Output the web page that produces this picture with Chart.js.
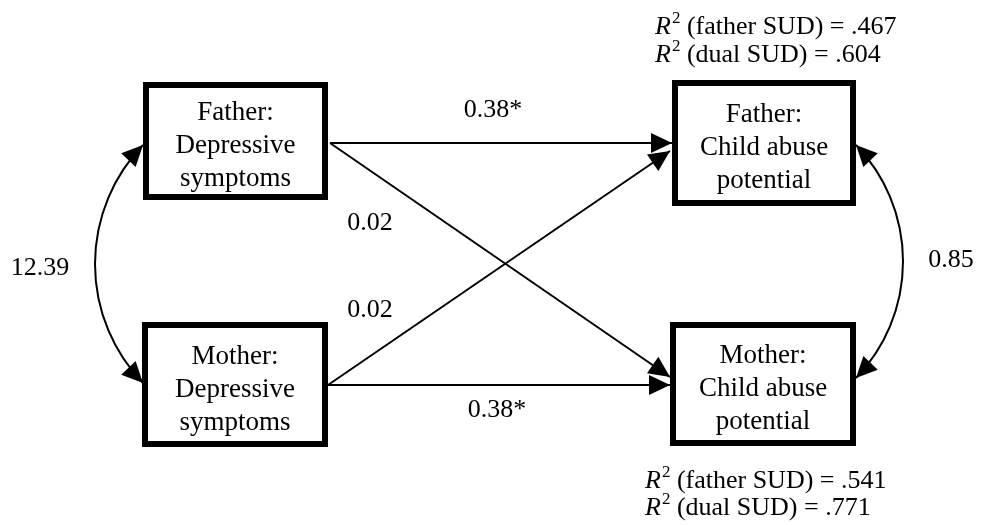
<!DOCTYPE html>
<html>
<head>
<meta charset="utf-8">
<script src="https://cdn.jsdelivr.net/npm/chart.js@4/dist/chart.umd.min.js"></script>
<style>
  html, body { margin: 0; padding: 0; background: #fff; }
  #wrap { width: 981px; height: 525px; }
</style>
</head>
<body>
<div id="wrap"><canvas id="diagram" width="981" height="525"></canvas></div>
<script>
// dados do modelo
const nodeNames = [
  ['Father:', 'Depressive', 'symptoms'],
  ['Mother:', 'Depressive', 'symptoms'],
  ['Father:', 'Child abuse', 'potential'],
  ['Mother:', 'Child abuse', 'potential']
];
const pathFrom = [0, 0, 1, 1];
const pathTo = [2, 3, 2, 3];
const pathCoef = ['0.38*', '0.02', '0.02', '0.38*'];
const covLabels = ['12.39', '0.85'];
const r2Groups = ['father SUD', 'dual SUD'];
const r2FatherAbuse = ['.467', '.604'];
const r2MotherAbuse = ['.541', '.771'];

// layout (unidades do eixo = pixels)
const boxes = [
  { x0: 143, y0: 82, x1: 328, y1: 200 },
  { x0: 142, y0: 322, x1: 328, y1: 447 },
  { x0: 672, y0: 80, x1: 856, y1: 206 },
  { x0: 670, y0: 322, x1: 856, y1: 446 }
];
const pathEnds = [
  [330, 143, 672, 143],
  [330, 143, 670, 377],
  [328, 385, 670, 151],
  [328, 385, 670, 385]
];
const pathLabelPos = [[493, 110], [370, 223], [370, 310], [497, 410]];
const covArcs = [
  { s: [143, 145], m: [95, 264], e: [143, 383], label: [40, 268] },
  { s: [856, 145], m: [903, 262], e: [856, 378], label: [951, 260] }
];
const r2Pos = [
  { x: 655, y: [34, 62], vals: r2FatherAbuse },
  { x: 645, y: [488, 515], vals: r2MotherAbuse }
];

const FONT = '"Liberation Serif", "DejaVu Serif", serif';

const datasets = pathFrom.map((f, i) => ({
  label: nodeNames[f][0] + ' -> ' + nodeNames[pathTo[i]][0],
  data: [{ x: pathEnds[i][0], y: pathEnds[i][1] }, { x: pathEnds[i][2], y: pathEnds[i][3] }],
  showLine: true,
  borderColor: '#000',
  borderWidth: 2,
  pointRadius: 0
}));

function arrowHead(ctx, x, y, dx, dy) {
  const len = 21, half = 10;
  const n = Math.hypot(dx, dy);
  const ux = dx / n, uy = dy / n;
  ctx.beginPath();
  ctx.moveTo(x, y);
  ctx.lineTo(x - ux * len - uy * half, y - uy * len + ux * half);
  ctx.lineTo(x - ux * len + uy * half, y - uy * len - ux * half);
  ctx.closePath();
  ctx.fill();
}

// circulo pelos 3 pontos
function circle3(a, b, c) {
  const d = 2 * (a[0] * (b[1] - c[1]) + b[0] * (c[1] - a[1]) + c[0] * (a[1] - b[1]));
  const a2 = a[0] * a[0] + a[1] * a[1], b2 = b[0] * b[0] + b[1] * b[1], c2 = c[0] * c[0] + c[1] * c[1];
  const cx = (a2 * (b[1] - c[1]) + b2 * (c[1] - a[1]) + c2 * (a[1] - b[1])) / d;
  const cy = (a2 * (c[0] - b[0]) + b2 * (a[0] - c[0]) + c2 * (b[0] - a[0])) / d;
  return { cx, cy, r: Math.hypot(a[0] - cx, a[1] - cy) };
}

const diagramPlugin = {
  id: 'diagram',
  afterDatasetsDraw(chart) {
    const ctx = chart.ctx;
    const xs = chart.scales.x, ys = chart.scales.y;
    const px = v => xs.getPixelForValue(v);
    const py = v => ys.getPixelForValue(v);
    ctx.save();
    ctx.fillStyle = '#000';
    ctx.strokeStyle = '#000';

    // pontas das setas retas
    pathEnds.forEach(p => {
      arrowHead(ctx, px(p[2]), py(p[3]), px(p[2]) - px(p[0]), py(p[3]) - py(p[1]));
    });

    // covariancias (arcos com duas pontas)
    covArcs.forEach((a, i) => {
      const S = [px(a.s[0]), py(a.s[1])], M = [px(a.m[0]), py(a.m[1])], E = [px(a.e[0]), py(a.e[1])];
      const c = circle3(S, M, E);
      const ang0 = Math.atan2(S[1] - c.cy, S[0] - c.cx);
      const ang1 = Math.atan2(E[1] - c.cy, E[0] - c.cx);
      const mid = Math.atan2(M[1] - c.cy, M[0] - c.cx);
      let t1 = ang1; while (t1 < ang0) t1 += 2 * Math.PI;
      let tm = mid; while (tm < ang0) tm += 2 * Math.PI;
      const ccw = !(tm < t1);
      ctx.lineWidth = 2;
      ctx.beginPath();
      ctx.arc(c.cx, c.cy, c.r, ang0, ang1, ccw);
      ctx.stroke();
      const sg = ccw ? -1 : 1;
      arrowHead(ctx, E[0], E[1], sg * -Math.sin(ang1), sg * Math.cos(ang1));
      arrowHead(ctx, S[0], S[1], -sg * -Math.sin(ang0), -sg * Math.cos(ang0));
      ctx.font = '26px ' + FONT;
      ctx.textAlign = 'center';
      ctx.textBaseline = 'middle';
      ctx.fillText(covLabels[i], px(a.label[0]), py(a.label[1]));
    });

    // caixas
    boxes.forEach((b, i) => {
      const x0 = px(b.x0), x1 = px(b.x1), y0 = py(b.y0), y1 = py(b.y1);
      ctx.fillStyle = '#fff';
      ctx.fillRect(x0, y0, x1 - x0, y1 - y0);
      ctx.lineWidth = 6;
      ctx.strokeRect(x0 + 3, y0 + 3, x1 - x0 - 6, y1 - y0 - 6);
      ctx.fillStyle = '#000';
      ctx.font = '27px ' + FONT;
      ctx.textAlign = 'center';
      ctx.textBaseline = 'alphabetic';
      const cx = (x0 + x1) / 2, cy = (y0 + y1) / 2;
      [-21, 12, 45].forEach((off, k) => ctx.fillText(nodeNames[i][k], cx, cy + off));
    });

    // coeficientes
    ctx.font = '26px ' + FONT;
    ctx.textAlign = 'center';
    ctx.textBaseline = 'middle';
    pathCoef.forEach((t, i) => ctx.fillText(t, px(pathLabelPos[i][0]), py(pathLabelPos[i][1])));

    // R2
    ctx.textAlign = 'left';
    ctx.textBaseline = 'alphabetic';
    r2Pos.forEach(g => {
      g.vals.forEach((v, k) => {
        let x = px(g.x);
        const y = py(g.y[k]);
        ctx.font = 'italic 26px ' + FONT;
        ctx.fillText('R', x, y);
        x += ctx.measureText('R').width + 1;
        ctx.font = '17px ' + FONT;
        ctx.fillText('2', x, y - 11);
        x += ctx.measureText('2').width;
        ctx.font = '26px ' + FONT;
        ctx.fillText(' (' + r2Groups[k] + ') = ' + v, x, y);
      });
    });
    ctx.restore();
  }
};

new Chart(document.getElementById('diagram').getContext('2d'), {
  type: 'scatter',
  data: { datasets },
  options: {
    responsive: false,
    animation: false,
    events: [],
    layout: { padding: 0 },
    plugins: { legend: { display: false }, tooltip: { enabled: false } },
    scales: {
      x: { type: 'linear', min: 0, max: 981, display: false },
      y: { type: 'linear', min: 0, max: 525, reverse: true, display: false }
    }
  },
  plugins: [diagramPlugin]
});
</script>
</body>
</html>
